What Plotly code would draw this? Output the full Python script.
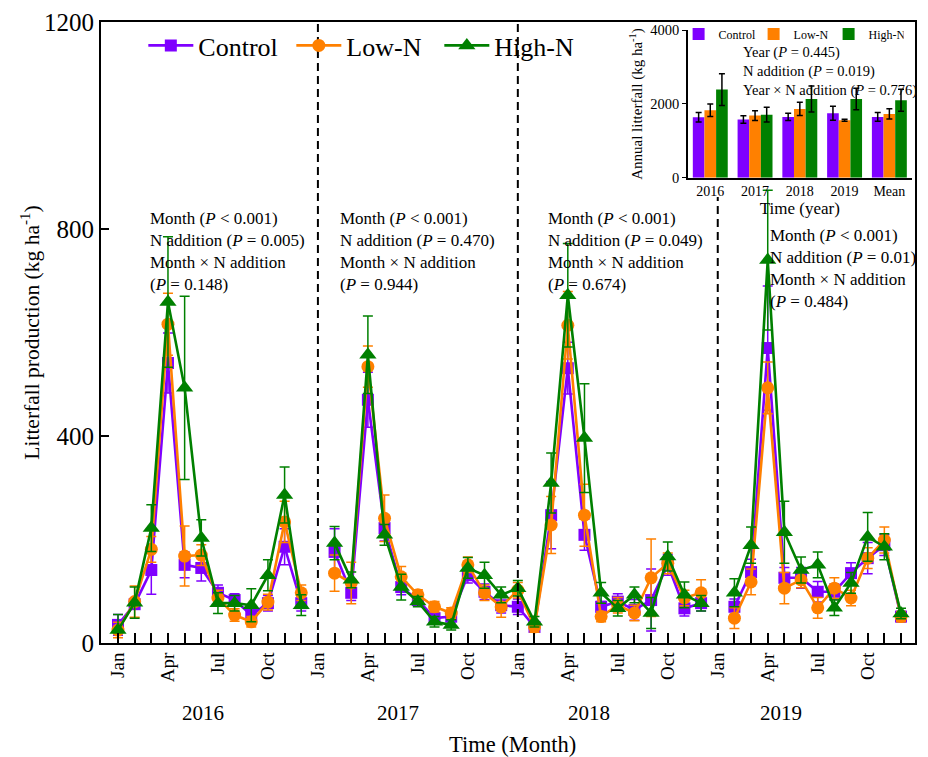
import plotly.graph_objects as go

# ---------------- data ----------------
months = list(range(1, 49))
tick_vals = [1, 4, 7, 10, 13, 16, 19, 22, 25, 28, 31, 34, 37, 40, 43, 46]
tick_text = ["Jan", "Apr", "Jul", "Oct"] * 4
years = ["2016", "2017", "2018", "2019"]
year_label_x = [0.125, 0.365, 0.600, 0.835]

control = [35, 75, 141, 541, 151, 145, 97, 83, 54, 77, 186, 77,
           None, 176, 97, 470, 222, 108, 83, 48, 51, 131, 99, 73,
           70, 31, 247, 531, 209, 70, 80, 64, 83, 151, 67, 77,
           None, 70, 137, 570, 126, 126, 99, 99, 135, 164, 189, 51]
control_err = [20, 10, 47, 58, 25, 25, 15, 12, 12, 15, 35, 15,
               None, 45, 15, 53, 25, 15, 10, 10, 10, 15, 15, 15,
               15, 10, 65, 50, 30, 10, 15, 20, 60, 20, 15, 15,
               None, 15, 25, 120, 20, 20, 20, 15, 20, 30, 20, 10]
low_n = [25, 80, 181, 616, 168, 170, 87, 54, 41, 79, 234, 97,
         None, 135, 116, 534, 241, 128, 93, 70, 58, 151, 97, 70,
         102, 31, 228, 614, 247, 51, 73, 58, 126, 154, 87, 97,
         None, 48, 118, 493, 106, 122, 68, 106, 87, 164, 199, 51]
low_n_err = [15, 30, 25, 60, 58, 20, 15, 12, 10, 15, 40, 15,
             None, 35, 40, 40, 45, 20, 10, 10, 10, 15, 15, 20,
             15, 10, 55, 65, 60, 10, 15, 15, 75, 20, 15, 25,
             None, 20, 25, 50, 30, 15, 20, 20, 15, 20, 25, 10]
high_n = [25, 78, 222, 659, 493, 203, 77, 77, 73, 131, 286, 73,
          None, 193, 122, 557, 209, 108, 80, 41, 35, 145, 131, 93,
          106, 41, 309, 672, 396, 97, 67, 93, 58, 167, 93, 77,
          None, 97, 189, 740, 214, 141, 151, 68, 116, 205, 186, 57]
high_n_err = [30, 30, 45, 126, 177, 35, 20, 15, 32, 30, 54, 20,
              None, 32, 15, 75, 20, 25, 10, 10, 10, 20, 25, 15,
              15, 10, 58, 100, 105, 20, 15, 15, 30, 28, 25, 15,
              None, 27, 35, 135, 60, 25, 25, 15, 20, 47, 25, 10]

stats_text = [
    "Month (<i>P</i> < 0.001)<br>N addition (<i>P</i> = 0.005)<br>Month × N addition<br>(<i>P</i> = 0.148)",
    "Month (<i>P</i> < 0.001)<br>N addition (<i>P</i> = 0.470)<br>Month × N addition<br>(<i>P</i> = 0.944)",
    "Month (<i>P</i> < 0.001)<br>N addition (<i>P</i> = 0.049)<br>Month × N addition<br>(<i>P</i> = 0.674)",
    "Month (<i>P</i> < 0.001)<br>N addition (<i>P</i> = 0.01)<br>Month × N addition<br>(<i>P</i> = 0.484)",
]
stats_pos = [(0.058, 0.702), (0.2916, 0.702), (0.547, 0.702), (0.820, 0.674)]

# inset (annual litterfall)
annual_cats = ["2016", "2017", "2018", "2019", "Mean"]
annual_control = [1640, 1580, 1650, 1750, 1650]
annual_control_err = [130, 100, 100, 190, 120]
annual_low = [1830, 1685, 1865, 1560, 1730]
annual_low_err = [170, 130, 180, 25, 140]
annual_high = [2390, 1710, 2135, 2135, 2100]
annual_high_err = [430, 200, 350, 290, 300]

divider_x = [13, 25, 37]
divider_top = [1200, 1200, 862]

names = ["Control", "Low-N", "High-N"]
colors = ["#7F00FF", "#FF8000", "#008000"]
symbols = ["square", "circle", "triangle-up"]
sizes = [12, 13, 15]

FONT = "Liberation Serif"

fig = go.Figure()

series = [(control, control_err), (low_n, low_n_err), (high_n, high_n_err)]
for (vals, errs), nm, col, sym, sz in zip(series, names, colors, symbols, sizes):
    fig.add_trace(go.Scatter(
        x=months, y=vals, name=nm, mode="lines+markers",
        line=dict(color=col, width=2.6),
        marker=dict(symbol=sym, size=sz, color=col, line=dict(width=0)),
        error_y=dict(type="data", array=errs, color=col, thickness=1.5, width=5, visible=True),
        legend="legend",
    ))

ann_series = [(annual_control, annual_control_err), (annual_low, annual_low_err), (annual_high, annual_high_err)]
for (vals, errs), nm, col in zip(ann_series, names, colors):
    fig.add_trace(go.Bar(
        x=annual_cats, y=vals, name=nm, marker=dict(color=col, line=dict(width=0)),
        error_y=dict(type="data", array=errs, color="black", thickness=1.5, width=3),
        xaxis="x2", yaxis="y2", legend="legend2",
    ))

for xv, top in zip(divider_x, divider_top):
    fig.add_shape(type="line", xref="x", yref="y", x0=xv, x1=xv, y0=0, y1=top,
                  line=dict(color="black", width=2, dash="8px,5px"))

annotations = []
for txt, (px, py) in zip(stats_text, stats_pos):
    annotations.append(dict(text=txt, x=px, y=py, xref="paper", yref="paper",
                            xanchor="left", yanchor="top", align="left", showarrow=False,
                            font=dict(family=FONT, size=17, color="black")))
for yr, xp in zip(years, year_label_x):
    annotations.append(dict(text=yr, x=xp, y=-0.113, xref="paper", yref="paper",
                            xanchor="center", yanchor="middle", showarrow=False,
                            font=dict(family=FONT, size=21, color="black")))
annotations.append(dict(text="Time (Month)", x=0.506, y=-0.164, xref="paper", yref="paper",
                        xanchor="center", yanchor="middle", showarrow=False,
                        font=dict(family=FONT, size=22.5, color="black")))
annotations.append(dict(text="Litterfall production (kg ha<sup>-1</sup>)", x=-0.087, y=0.5,
                        xref="paper", yref="paper", textangle=-90, xanchor="center", yanchor="middle",
                        showarrow=False, font=dict(family=FONT, size=21.5, color="black")))
annotations.append(dict(text="Year (<i>P</i> = 0.445)<br>N addition (<i>P</i> = 0.019)<br>Year × N addition (<i>P</i> = 0.776)",
                        x=0.786, y=0.968, xref="paper", yref="paper", xanchor="left", yanchor="top",
                        align="left", showarrow=False, font=dict(family=FONT, size=14.5, color="black")))

fig.update_layout(
    width=928, height=757,
    margin=dict(l=101, r=13, t=22, b=114, autoexpand=False),
    paper_bgcolor="white", plot_bgcolor="white",
    font=dict(family=FONT, color="black"),
    annotations=annotations,
    barmode="group", bargap=0.22, bargroupgap=0,
    legend=dict(orientation="h", x=0.052, y=1.0, xanchor="left", yanchor="top",
                font=dict(family=FONT, size=26), bgcolor="rgba(0,0,0,0)", itemwidth=45,
                entrywidth=88, entrywidthmode="pixels", tracegroupgap=0),
    legend2=dict(orientation="h", x=0.986, y=1.004, xanchor="right", yanchor="top",
                 font=dict(family=FONT, size=12), bgcolor="rgba(0,0,0,0)", itemwidth=30,
                 entrywidth=30, entrywidthmode="pixels"),
    xaxis=dict(range=[-0.02, 48.84], tickvals=tick_vals, ticktext=tick_text, tickangle=-90,
               ticks="inside", ticklen=10, tickwidth=1.5, tickcolor="black",
               minor=dict(tick0=1, dtick=1, ticks="inside", ticklen=10, tickwidth=1.5, tickcolor="black"),
               showline=True, linecolor="black", linewidth=2, mirror=True,
               showgrid=False, zeroline=False,
               tickfont=dict(family=FONT, size=19)),
    yaxis=dict(range=[0, 1200], tickvals=[0, 400, 800, 1200], ticks="inside", ticklen=8,
               tickwidth=1.5, tickcolor="black",
               showline=True, linecolor="black", linewidth=2, mirror=True,
               showgrid=False, zeroline=False,
               tickfont=dict(family=FONT, size=25)),
    xaxis2=dict(domain=[0.721, 0.996], anchor="y2", showline=True, linecolor="black", linewidth=1.5,
                ticks="", showgrid=False, tickfont=dict(family=FONT, size=14),
                title=dict(text="Time (year)", font=dict(family=FONT, size=17), standoff=4)),
    yaxis2=dict(domain=[0.749, 0.987], anchor="x2", range=[0, 4000], tickvals=[0, 2000, 4000],
                showline=True, linecolor="black", linewidth=1.5, ticks="outside", ticklen=4,
                tickcolor="black", showgrid=False, zeroline=False,
                tickfont=dict(family=FONT, size=14.5),
                title=dict(text="Annual litterfall (kg ha<sup>-1</sup>)", font=dict(family=FONT, size=15),
                           standoff=4)),
)

fig.write_html("out.html")
